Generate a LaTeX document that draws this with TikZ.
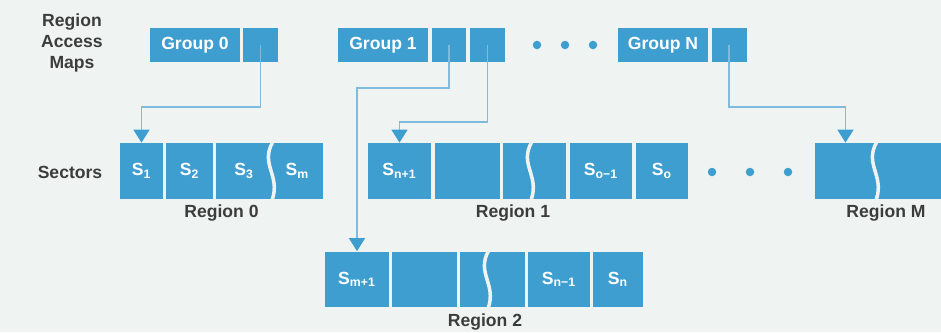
\documentclass[tikz,border=0pt]{standalone}
\usepackage{fontspec}
\setmainfont{Liberation Sans}
\usepackage{tikz}
\usetikzlibrary{arrows.meta}
\definecolor{mapblue}{RGB}{62,158,208}
\definecolor{lineblue}{RGB}{125,188,222}
\definecolor{paper}{RGB}{239,244,243}
\definecolor{inkgray}{RGB}{60,60,60}
\tikzset{
  group-node/.style={fill=mapblue, minimum width=1.8cm, minimum height=0.68cm,
    inner sep=0pt, font=\fontsize{10}{12}\selectfont\bfseries, text=white},
  pointer-node/.style={fill=mapblue, minimum width=0.7cm, minimum height=0.68cm,
    inner sep=0pt},
  sector-node/.style={fill=mapblue, minimum width=#1*0.02cm, minimum height=1.12cm,
    inner sep=0pt, font=\fontsize{10}{12}\selectfont\bfseries, text=white},
  map-arrow/.style={-{Triangle[width=3.2mm,length=2.6mm,color=mapblue]}, line width=0.8pt,
    draw=lineblue},
  break-line/.style={draw=paper, line width=2pt},
  side-label/.style={font=\fontsize{10}{12}\selectfont\bfseries, text=inkgray, align=center},
  dot-node/.style={circle, fill=mapblue, minimum size=0.17cm, inner sep=0pt}
}
\begin{document}
\begin{tikzpicture}[x=0.02cm, y=-0.02cm]
\path[use as bounding box, fill=paper] (0,0) rectangle (941,332);
% region access maps
\node[side-label] (ram) at (72,43) {Region\\Access\\Maps};
\node[group-node] (g0) at (195,45) {Group 0};
\node[pointer-node] (p0) at (260.5,45) {};
\node[group-node] (g1) at (383,45) {Group 1};
\node[pointer-node] (p1a) at (449,45) {};
\node[pointer-node] (p1b) at (487.5,45) {};
\foreach \dx/\i in {537/1,565/2,593/3}
  \node[dot-node] (gd\i) at (\dx,45) {};
\node[group-node] (gN) at (663,45) {Group N};
\node[pointer-node] (pN) at (729,45) {};
% sectors
\node[side-label] (sec) at (70,172) {Sectors};
\foreach \cx/\w/\txt/\i in {141.5/43/S\textsubscript{1}/1, 189.5/47/S\textsubscript{2}/2,
  244/56/S\textsubscript{3}/3, 297.5/51/S\textsubscript{m}/m}
  \node[sector-node=\w] (s0\i) at (\cx,171) {\txt};
\foreach \cx/\w/\txt/\i in {399.5/63/S\textsubscript{n+1}/1, 467.5/65//2, 517/28//3,
  548.5/35//4, 601/62/S\textsubscript{o−1}/5, 662/52/S\textsubscript{o}/6}
  \node[sector-node=\w] (s1\i) at (\cx,171) {\txt};
\foreach \dx/\i in {712/1,750/2,788/3}
  \node[dot-node] (sd\i) at (\dx,172) {};
\foreach \cx/\w/\i in {845.5/61/1, 908.5/65/2}
  \node[sector-node=\w] (sM\i) at (\cx,171) {};
\foreach \cx/\w/\txt/\i in {357/64/S\textsubscript{m+1}/1, 424.5/65//2, 474/28//3,
  506.5/37//4, 559/62/S\textsubscript{n−1}/5, 618/50/S\textsubscript{n}/6}
  \node[sector-node=\w] (s2\i) at (\cx,279.5) {\txt};
% breaks
\draw[break-line] (s03.north east) .. controls +(-12,22) and +(8,-24) .. (s03.south east);
\draw[break-line] (s13.north east) .. controls +(-12,22) and +(8,-24) .. (s13.south east);
\draw[break-line] (s23.north east) .. controls +(-12,22) and +(8,-24) .. (s23.south east);
\draw[break-line] (sM1.north east) .. controls +(-12,22) and +(8,-24) .. (sM1.south east);
% region labels
\node[side-label] (r0) at (221.5,213) {Region 0};
\node[side-label] (r1) at (513,213) {Region 1};
\node[side-label] (rM) at (886,213) {Region M};
\node[side-label] (r2) at (485,322) {Region 2};
% pointers
\coordinate (lvl0) at (0,107);
\coordinate (lvl1) at (0,88);
\coordinate (lvl2) at (0,122);
\draw[map-arrow] (p0.center) -- (p0.center |- lvl0) -| (s01.north);
\draw[map-arrow] (p1a.center) -- (p1a.center |- lvl1) -| (s21.north);
\draw[map-arrow] (p1b.center) -- (p1b.center |- lvl2) -| (s11.north);
\draw[map-arrow] (pN.center) -- (pN.center |- lvl0) -| (sM1.north);
\end{tikzpicture}
\end{document}
